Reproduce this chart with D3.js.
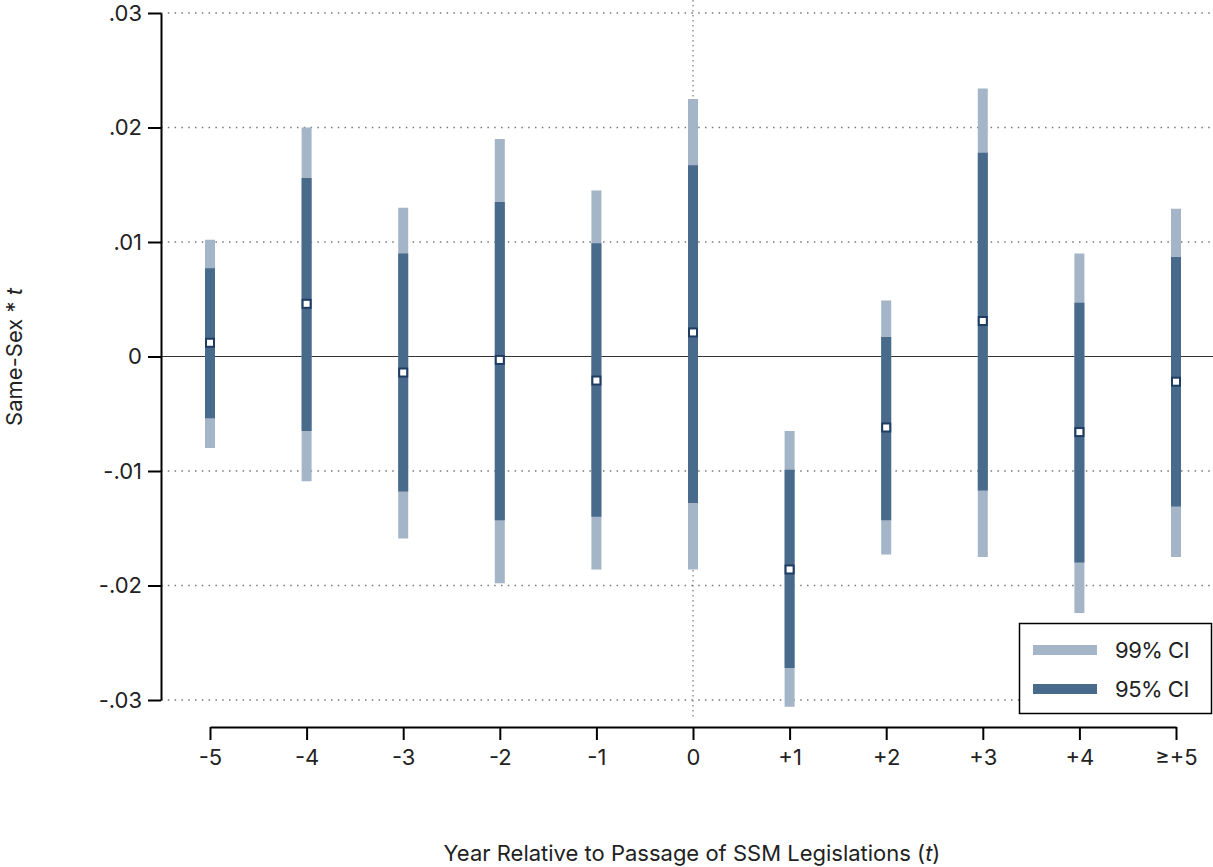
<!DOCTYPE html>
<html>
<head>
<meta charset="utf-8">
<script src="https://d3js.org/d3.v7.min.js"></script>
<style>
  body { margin: 0; background: #fff; }
  text { font-family: Inter, "Liberation Sans", sans-serif; fill: #222; }
</style>
</head>
<body>
<script>
// categories and estimates
var periods = ["-5", "-4", "-3", "-2", "-1", "0", "+1", "+2", "+3", "+4", "\u2265+5"];
var coef  = [0.0012, 0.0046, -0.0014, -0.0003, -0.0021, 0.0021, -0.0186, -0.0062, 0.0031, -0.0066, -0.0022];
var lo95  = [-0.0054, -0.0065, -0.0118, -0.0143, -0.0140, -0.0128, -0.0272, -0.0143, -0.0117, -0.0180, -0.0131];
var hi95  = [0.0077, 0.0156, 0.0090, 0.0135, 0.0099, 0.0167, -0.0099, 0.0017, 0.0178, 0.0047, 0.0087];
var lo99  = [-0.0080, -0.0109, -0.0159, -0.0198, -0.0186, -0.0186, -0.0306, -0.0173, -0.0175, -0.0224, -0.0175];
var hi99  = [0.0102, 0.0200, 0.0130, 0.0190, 0.0145, 0.0225, -0.0065, 0.0049, 0.0234, 0.0090, 0.0129];
var yTicks = [0.03, 0.02, 0.01, 0, -0.01, -0.02, -0.03];
var yTickLabels = [".03", ".02", ".01", "0", "-.01", "-.02", "-.03"];

var width = 1213, height = 867;
var light = "#a4b5c7", dark = "#486a8b";

var svg = d3.select("body").append("svg")
  .attr("width", width)
  .attr("height", height);

var x = d3.scalePoint().domain(periods).range([210, 1176]);
var y = d3.scaleLinear().domain([-0.03, 0.03]).range([700, 13]);

// gridlines
svg.append("g").selectAll("line")
  .data(yTicks.filter(function(d){ return d != 0; }))
  .enter().append("line")
  .attr("x1", 161).attr("x2", width)
  .attr("y1", function(d){ return y(d); })
  .attr("y2", function(d){ return y(d); })
  .style("stroke", "#777")
  .style("stroke-width", 1.3)
  .style("stroke-dasharray", "1.5,5.3");

// vertical reference at t = 0
svg.append("line")
  .attr("x1", x("0")).attr("x2", x("0"))
  .attr("y1", 0).attr("y2", 718)
  .style("stroke", "#777")
  .style("stroke-width", 1.2)
  .style("stroke-dasharray", "1.5,3.5");

// zero line
svg.append("line")
  .attr("x1", 161).attr("x2", width)
  .attr("y1", y(0)).attr("y2", y(0))
  .style("stroke", "#333")
  .style("stroke-width", 1);

// y axis
var yAxis = d3.axisLeft(y)
  .tickValues(yTicks)
  .tickFormat(function(d, i){ return yTickLabels[i]; })
  .tickSize(13)
  .tickPadding(6)
  .tickSizeOuter(0);
var gy = svg.append("g").attr("transform", "translate(161,0)").call(yAxis);
gy.select(".domain").style("stroke", "#000").style("stroke-width", 2);
gy.selectAll(".tick line").style("stroke", "#000").style("stroke-width", 2);
gy.selectAll(".tick text").style("font-size", "22px").attr("fill", "#222")
  .style("font-family", "Inter, sans-serif");

// x axis
var xAxis = d3.axisBottom(x).tickSize(13).tickPadding(9).tickSizeOuter(0);
var gx = svg.append("g").attr("transform", "translate(0,727)").call(xAxis);
gx.select(".domain").style("stroke", "#000").style("stroke-width", 2);
gx.selectAll(".tick line").style("stroke", "#000").style("stroke-width", 2);
gx.selectAll(".tick text").style("font-size", "22px").attr("fill", "#222")
  .style("font-family", "Inter, sans-serif");

// 99% CI bars
svg.append("g").selectAll("line")
  .data(periods)
  .enter().append("line")
  .attr("x1", function(d){ return x(d); })
  .attr("x2", function(d){ return x(d); })
  .attr("y1", function(d, i){ return y(hi99[i]); })
  .attr("y2", function(d, i){ return y(lo99[i]); })
  .style("stroke", light)
  .style("stroke-width", 10);

// 95% CI bars
svg.append("g").selectAll("line")
  .data(periods)
  .enter().append("line")
  .attr("x1", function(d){ return x(d); })
  .attr("x2", function(d){ return x(d); })
  .attr("y1", function(d, i){ return y(hi95[i]); })
  .attr("y2", function(d, i){ return y(lo95[i]); })
  .style("stroke", dark)
  .style("stroke-width", 10);

// point estimates
svg.append("g").selectAll("rect")
  .data(periods)
  .enter().append("rect")
  .attr("x", function(d){ return x(d) - 4; })
  .attr("y", function(d, i){ return y(coef[i]) - 4; })
  .attr("width", 8).attr("height", 8)
  .style("fill", "#fff")
  .style("stroke", "#1f3d63")
  .style("stroke-width", 2);

// legend
var lg = svg.append("g");
lg.append("rect")
  .attr("x", 1019.5).attr("y", 623.5)
  .attr("width", 192).attr("height", 90)
  .style("fill", "#fff").style("stroke", "#000").style("stroke-width", 1.5);
[["99% CI", light, 650], ["95% CI", dark, 689]].forEach(function(e){
  lg.append("line")
    .attr("x1", 1033).attr("x2", 1097)
    .attr("y1", e[2]).attr("y2", e[2])
    .style("stroke", e[1]).style("stroke-width", 10);
  lg.append("text")
    .attr("x", 1115).attr("y", e[2] + 8)
    .style("font-size", "22px")
    .style("letter-spacing", "-0.5px")
    .text(e[0]);
});

// axis titles
var xt = svg.append("text")
  .attr("x", 692).attr("y", 861)
  .attr("text-anchor", "middle")
  .style("font-size", "22px");
xt.append("tspan").text("Year Relative to Passage of SSM Legislations (");
xt.append("tspan").style("font-style", "italic").text("t");
xt.append("tspan").text(")");

var yt = svg.append("text")
  .attr("transform", "translate(22,357) rotate(-90)")
  .attr("text-anchor", "middle")
  .style("font-size", "22px");
yt.append("tspan").text("Same-Sex * ");
yt.append("tspan").style("font-style", "italic").text("t");
</script>
</body>
</html>
